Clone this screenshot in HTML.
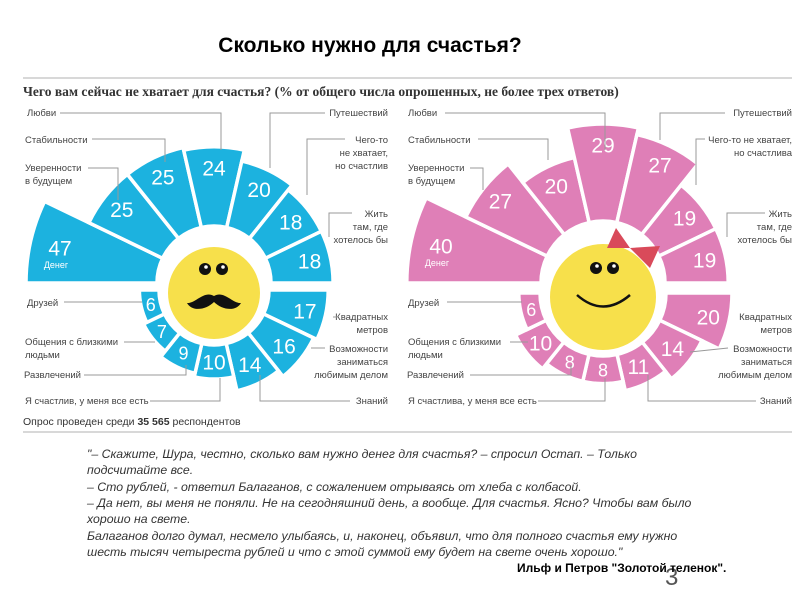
<!DOCTYPE html>
<html><head><meta charset="utf-8">
<style>
body{margin:0;background:#fff;width:800px;height:600px;overflow:hidden;}
svg{display:block}
</style></head><body>
<svg id="s" width="800" height="600" xmlns="http://www.w3.org/2000/svg" font-family="Liberation Sans, DejaVu Sans, sans-serif">
<text x="370" y="52" text-anchor="middle" font-size="21" font-weight="bold" fill="#000">Сколько нужно для счастья?</text>
<line x1="23" y1="78" x2="792" y2="78" stroke="#ccc" stroke-width="1.5"/>
<text x="23" y="96" font-family="Liberation Serif, serif" font-weight="bold" font-size="13.5" fill="#333">Чего вам сейчас не хватает для счастья? (% от общего числа опрошенных, не более трех ответов)</text>
<g id="charts"></g>
<g font-size="9.5" fill="#444">
<text x="27" y="116">Любви</text>
<text x="25" y="143">Стабильности</text>
<text x="25" y="171">Уверенности</text><text x="25" y="184">в будущем</text>
<text x="388" y="116" text-anchor="end">Путешествий</text>
<text x="388" y="143" text-anchor="end">Чего-то</text><text x="388" y="156" text-anchor="end">не хватает,</text><text x="388" y="169" text-anchor="end">но счастлив</text>
<text x="388" y="217" text-anchor="end">Жить</text><text x="388" y="230" text-anchor="end">там, где</text><text x="388" y="243" text-anchor="end">хотелось бы</text>
<text x="27" y="306">Друзей</text>
<text x="25" y="345">Общения с близкими</text><text x="25" y="358">людьми</text>
<text x="24" y="378">Развлечений</text>
<text x="25" y="404">Я счастлив, у меня все есть</text>
<text x="388" y="320" text-anchor="end">Квадратных</text><text x="388" y="333" text-anchor="end">метров</text>
<text x="388" y="352" text-anchor="end">Возможности</text><text x="388" y="365" text-anchor="end">заниматься</text><text x="388" y="378" text-anchor="end">любимым делом</text>
<text x="388" y="404" text-anchor="end">Знаний</text>
<text x="408" y="116">Любви</text>
<text x="408" y="143">Стабильности</text>
<text x="408" y="171">Уверенности</text><text x="408" y="184">в будущем</text>
<text x="792" y="116" text-anchor="end">Путешествий</text>
<text x="792" y="143" text-anchor="end">Чего-то не хватает,</text><text x="792" y="156" text-anchor="end">но счастлива</text>
<text x="792" y="217" text-anchor="end">Жить</text><text x="792" y="230" text-anchor="end">там, где</text><text x="792" y="243" text-anchor="end">хотелось бы</text>
<text x="408" y="306">Друзей</text>
<text x="408" y="345">Общения с близкими</text><text x="408" y="358">людьми</text>
<text x="407" y="378">Развлечений</text>
<text x="408" y="404">Я счастлива, у меня все есть</text>
<text x="792" y="320" text-anchor="end">Квадратных</text><text x="792" y="333" text-anchor="end">метров</text>
<text x="792" y="352" text-anchor="end">Возможности</text><text x="792" y="365" text-anchor="end">заниматься</text><text x="792" y="378" text-anchor="end">любимым делом</text>
<text x="792" y="404" text-anchor="end">Знаний</text>
</g>
<g stroke="#999" stroke-width="1" fill="none">
<polyline points="60,113 221,113 221,150"/>
<polyline points="92,139 165,139 165,162"/>
<polyline points="88,168 118,168 118,200"/>
<polyline points="325,113 270,113 270,168"/>
<polyline points="345,139 307,139 307,195"/>
<polyline points="352,213 329,213 329,237"/>
<polyline points="64,302 142,302"/>
<polyline points="124,342 155,342"/>
<polyline points="84,375 186,375 186,365"/>
<polyline points="150,401 220,401 220,378"/>
<polyline points="333,317 338,317"/>
<polyline points="311,348 325,348"/>
<polyline points="350,401 260,401 260,375"/>
<polyline points="445,113 605,113 605,150"/>
<polyline points="478,139 548,139 548,160"/>
<polyline points="470,168 483,168 483,190"/>
<polyline points="725,113 660,113 660,140"/>
<polyline points="705,139 696,139 696,185"/>
<polyline points="765,213 727,213 727,237"/>
<polyline points="447,302 522,302"/>
<polyline points="510,342 528,342"/>
<polyline points="470,375 571,375 571,365"/>
<polyline points="538,401 605,401 605,378"/>
<polyline points="728,348 690,352"/>
<polyline points="756,401 648,401 648,375"/>
</g>
<text x="23" y="425" font-size="10.5" fill="#333">Опрос проведен среди <tspan font-weight="bold">35 565</tspan> респондентов</text>
<line x1="23" y1="432" x2="792" y2="432" stroke="#ccc" stroke-width="1.5"/>
<g font-size="12.3" font-style="italic" fill="#333">
<text x="87" y="458">"– Скажите, Шура, честно, сколько вам нужно денег для счастья? – спросил Остап. – Только</text>
<text x="87" y="474">подсчитайте все.</text>
<text x="87" y="491">– Сто рублей, - ответил Балаганов, с сожалением отрываясь от хлеба с колбасой.</text>
<text x="87" y="507">– Да нет, вы меня не поняли. Не на сегодняшний день, а вообще. Для счастья. Ясно? Чтобы вам было</text>
<text x="87" y="523">хорошо на свете.</text>
<text x="87" y="540">Балаганов долго думал, несмело улыбаясь, и, наконец, объявил, что для полного счастья ему нужно</text>
<text x="87" y="556">шесть тысяч четыреста рублей и что с этой суммой ему будет на свете очень хорошо."</text>
</g>
<text x="665" y="585" font-size="24" fill="#555">3</text>
<text x="517" y="572" font-size="12" font-weight="bold" fill="#000">Ильф и Петров "Золотой теленок".</text>
</svg>
<script>
var NS="http://www.w3.org/2000/svg",g=document.getElementById("charts");
function el(t,a,p){var e=document.createElementNS(NS,t);for(var k in a)e.setAttribute(k,a[k]);(p||g).appendChild(e);return e;}
function chart(cx,cyU,cyL,rinU,rinL,vals,rfU,rfL,col){
  var step=Math.PI/7;
  for(var i=0;i<14;i++){
    var a0,a1,v=vals[i],cy,rin,r;
    if(i<7){a0=Math.PI-i*step;a1=Math.PI-(i+1)*step;cy=cyU;rin=rinU;r=rfU(v);}
    else{var j=i-7;a0=-j*step;a1=-(j+1)*step;cy=cyL;rin=rinL;r=rfL(v);}
    var P=function(rr,a){return (cx+rr*Math.cos(a)).toFixed(1)+","+(cy-rr*Math.sin(a)).toFixed(1);};
    var d="M"+P(rin,a0)+" L"+P(r,a0)+" A"+r+","+r+" 0 0 1 "+P(r,a1)+" L"+P(rin,a1)+" A"+rin+","+rin+" 0 0 0 "+P(rin,a0)+"Z";
    el("path",{d:d,fill:col,stroke:"#fff","stroke-width":"3.5"});
    var am=(a0+a1)/2,rt=Math.max(r-21,rin+(r-rin)/2),big=(i==0);
    if(big){rt=r-30;}
    var fs=v<10?18:21;
    var tx=cx+rt*Math.cos(am),ty=cy-rt*Math.sin(am);
    var t=el("text",{x:tx.toFixed(1),y:(ty+fs*0.36).toFixed(1),"text-anchor":"middle","font-size":fs,fill:"#fff"});
    t.textContent=v;
    if(big){var t2=el("text",{x:(tx-4).toFixed(1),y:(ty+20).toFixed(1),"text-anchor":"middle","font-size":9,fill:"#fff"});t2.textContent="Денег";}
  }
}
chart(214,283,290,57,55,[47,25,25,24,20,18,18,17,16,14,10,9,7,6],
  function(v){return Math.sqrt(1034+730*v);},function(v){return 53+3.6*v;},"#1cb2df");
chart(603,283,293,62,63,[40,27,20,29,27,19,19,20,14,11,8,8,10,6],
  function(v){return 61+3.38*v;},function(v){return 65+3.2*v;},"#df7fb7");
el("circle",{cx:214,cy:293,r:46,fill:"#f7e04b"});
el("circle",{cx:205,cy:269,r:6,fill:"#111"});el("circle",{cx:222,cy:269,r:6,fill:"#111"});
el("circle",{cx:206,cy:267,r:1.8,fill:"#fff"});el("circle",{cx:223,cy:267,r:1.8,fill:"#fff"});
el("path",{d:"M187,303 C195,304 204,290 214,296 C224,290 233,304 241,303 C236,312 222,310 214,302 C206,310 192,312 187,303Z",fill:"#111"});
el("circle",{cx:603,cy:297,r:53,fill:"#f7e04b"});
el("circle",{cx:596,cy:268,r:6,fill:"#111"});el("circle",{cx:613,cy:268,r:6,fill:"#111"});
el("circle",{cx:597,cy:266,r:1.8,fill:"#fff"});el("circle",{cx:614,cy:266,r:1.8,fill:"#fff"});
el("path",{d:"M577,295 Q603,318 630,295",fill:"none",stroke:"#111","stroke-width":"2.5"});
el("path",{d:"M616,228 L607,248 L630,248Z M630,248 L660,246 L650,268Z",fill:"#d94a5a"});
</script>
</body></html>
